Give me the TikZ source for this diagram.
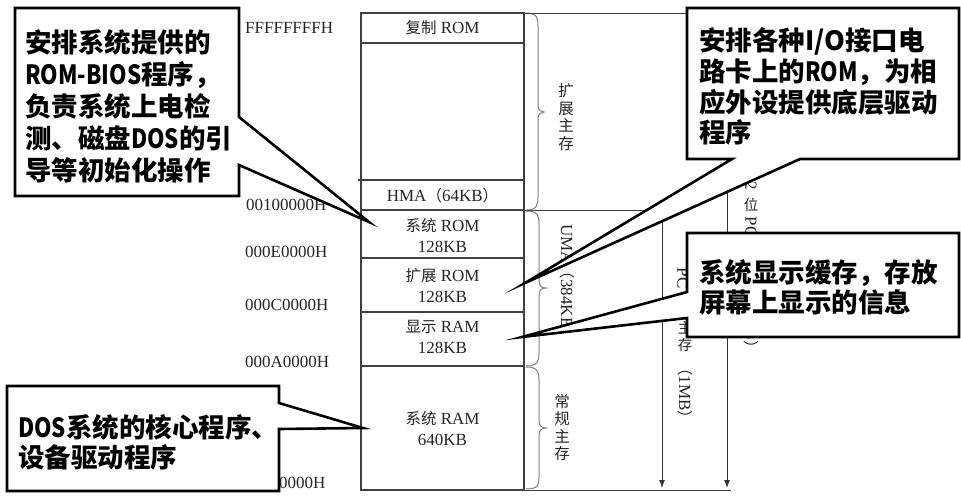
\documentclass[tikz,border=0pt]{standalone}
\usepackage{fontspec}
\setmainfont{Liberation Serif}
\newfontfamily\cjk{Noto Sans CJK SC}
\usetikzlibrary{arrows.meta}
\newcommand\cj[1]{{\cjk\fontsize{15.5}{21}\selectfont #1}}
\newcommand\nar[1]{\scalebox{0.84}[1]{#1}}
\tikzset{
  memline/.style={draw=black!75, line width=1.1pt},
  lbl/.style={font=\fontsize{17}{21}\selectfont, text=black!85, inner sep=0pt, align=center},
  vch/.style={font=\cjk\fontsize{14.5}{16}\selectfont, text=black!85, inner sep=0pt},
  addr/.style={font=\fontsize{17}{21}\selectfont, text=black!85, inner sep=0pt, anchor=west},
  bracestyle/.style={draw=black!50, line width=1pt},
  arr/.style={draw=black!80, line width=1pt, -{Latex[length=8pt,width=6pt]}},
  callout/.style={draw=black, line width=2.6pt, fill=white, line join=miter, miter limit=20},
  ctext/.style={font=\cjk\bfseries\fontsize{26.5}{32}\selectfont, anchor=base west, inner sep=0pt},
}
\begin{document}
\begin{tikzpicture}[x=1pt,y=-1pt]
\useasboundingbox (0,0) rectangle (961,501);
\fill[white] (0,0) rectangle (961,501);

% memory column
\draw[memline] (361,13) rectangle (524,490);
\draw[memline] (361,43) -- (524,43);
\draw[memline] (358,180) -- (524,180);
\draw[memline] (361,210) -- (524,210);
\draw[memline] (361,258) -- (524,258);
\draw[memline] (361,312) -- (524,312);
\draw[memline] (361,366) -- (524,366);

\node[lbl] (lcopy) at (442.5,28) {\cj{复制} ROM};
\node[lbl] (lhma) at (442.5,196) {HMA\cj{（}64KB\cj{）}};
\node[lbl] (lsrom) at (442.5,235.5) {\cj{系统} ROM\\128KB};
\node[lbl] (lerom) at (442.5,286) {\cj{扩展} ROM\\128KB};
\node[lbl] (ldram) at (442.5,336.5) {\cj{显示} RAM\\128KB};
\node[lbl] (lsram) at (442.5,429) {\cj{系统} RAM\\640KB};

% addresses
\node[addr] (a1) at (245,28) {FFFFFFFFH};
\node[addr] (a2) at (246,205) {00100000H};
\node[addr] (a3) at (245,252) {000E0000H};
\node[addr] (a4) at (245,305) {000C0000H};
\node[addr] (a5) at (245,362) {000A0000H};
\node[addr] (a6) at (245,483) {00000000H};

% braces
\draw[bracestyle] (526,13) .. controls (537,13) and (538,18) .. (538,26) -- (538,105)
  .. controls (538,110) and (541,112) .. (544,112) .. controls (541,112) and (538,114) .. (538,119)
  -- (538,197) .. controls (538,205) and (537,210) .. (526,210);
\draw[bracestyle] (526,211) .. controls (538,211) and (539,216) .. (539,224) -- (539,281)
  .. controls (539,286) and (542,288) .. (546,288) .. controls (542,288) and (539,290) .. (539,295)
  -- (539,353) .. controls (539,361) and (538,366) .. (526,366);
\draw[bracestyle] (526,367) .. controls (538,367) and (539,372) .. (539,380) -- (539,421)
  .. controls (539,426) and (542,428) .. (546,428) .. controls (542,428) and (539,430) .. (539,435)
  -- (539,477) .. controls (539,485) and (538,489) .. (526,489);

\node[lbl, font=\cjk\fontsize{15.5}{17.5}\selectfont] (tkz) at (566,117) {扩\\展\\主\\存};
\node[lbl, font=\cjk\fontsize{15.5}{17.3}\selectfont] (tcg) at (562,427.5) {常\\规\\主\\存};
\node[lbl, rotate=-90] (tuma) at (567,284) {UMA\cj{（}384KB\cj{）}};

% right lines and arrows
\coordinate (top32) at (727,13);
\coordinate (bot32) at (727,488);
\coordinate (top1m) at (662,210);
\coordinate (bot1m) at (662,488);
\draw[memline, line width=1pt] (524,13) -- (top32);
\draw[memline, line width=1pt] (524,210) -- (top1m);
\draw[memline, line width=1pt] (524,490) -- (731,490);
\draw[arr] (top32) -- (bot32);
\draw[arr] (top1m) -- (bot1m);

\node[lbl, rotate=-90] (v1pc) at (683,278) {PC};
\node[vch] (v1z) at (685,328) {主};
\node[vch] (v1c) at (685,345) {存};
\node[lbl, rotate=-90] (v1m) at (685,393) {\cj{（}1MB\cj{）}};

\node[lbl, rotate=-90] (v2n) at (751,181) {32};
\node[vch] (v2w) at (751,204.5) {位};
\node[lbl, rotate=-90] (v2pc) at (751,227) {PC};
\node[lbl, rotate=-90] (v2g) at (751,324) {\cj{（}4GB\cj{）}};

% callouts
\coordinate (p1) at (369,222);
\coordinate (p2) at (525,283);
\coordinate (p3) at (522,337);
\coordinate (p4) at (363,428);
\draw[callout] (15,8) -- (239,8) -- (239,117) -- (p1) -- (239,165) -- (239,196) -- (15,196) -- cycle;
\draw[callout] (687,8) -- (959,8) -- (959,159) -- (800,159) -- (p2) -- (732,159) -- (687,159) -- cycle;
\draw[callout] (687,233) -- (959,233) -- (959,337) -- (687,337) -- (687,318) -- (p3) -- (687,292) -- cycle;
\draw[callout] (7,386) -- (279,386) -- (279,403) -- (p4) -- (279,429) -- (279,491) -- (7,491) -- cycle;

\node[ctext] (c1a) at (25,52) {安排系统提供的};
\node[ctext] (c1b) at (25,84) {\nar{ROM-BIOS}程序，};
\node[ctext] (c1c) at (25,116) {负责系统上电检};
\node[ctext] (c1d) at (25,148) {测、磁盘\nar{DOS}的引};
\node[ctext] (c1e) at (25,180) {导等初始化操作};

\node[ctext] (c2a) at (699,50) {安排各种I/O接口电};
\node[ctext] (c2b) at (699,81) {路卡上的\nar{ROM}，为相};
\node[ctext] (c2c) at (699,112) {应外设提供底层驱动};
\node[ctext] (c2d) at (699,142) {程序};

\node[ctext] (c3a) at (699,282) {系统显示缓存，存放};
\node[ctext] (c3b) at (699,312) {屏幕上显示的信息};

\node[ctext] (c4a) at (18,437) {\nar{DOS}系统的核心程序、};
\node[ctext] (c4b) at (18,467) {设备驱动程序};
\end{tikzpicture}
\end{document}
